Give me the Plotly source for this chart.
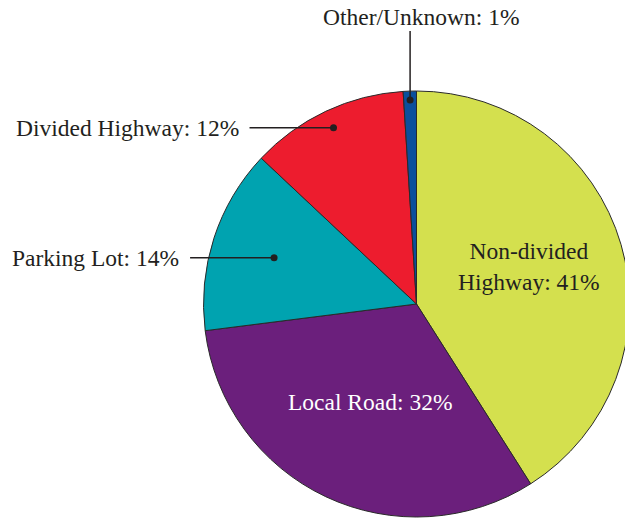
import math
import plotly.graph_objects as go

categories = ["Non-divided Highway", "Local Road", "Parking Lot", "Divided Highway", "Other/Unknown"]
values = [41, 32, 14, 12, 1]
label_text = ["Non-divided<br>Highway: 41%", "Local Road: 32%", "Parking Lot: 14%",
              "Divided Highway: 12%", "Other/Unknown: 1%"]
colors = ["#d4e04e", "#6b1f7c", "#00a3b0", "#ed1c2e", "#0b4f9c"]

W, H = 640, 519            # figure a bit wider than the window so the pie is clipped on the right
CX, CY = 416.5, 304        # pie centre in pixels (from top-left)
R = 213
FONT = "Liberation Serif"
FS = 23.5
INK = "#231f20"

# label placement style: (mode, radial fraction, text colour, vertical shift px)
styles = [
    ("inside", 0.55, INK, 5),
    ("inside", 0.51, "#ffffff", 0),
    ("left", 0.703, INK, 0),
    ("left", 0.915, INK, 0),
    ("top", 0.958, INK, 0),
]


def px(x, y):
    return x / W, 1 - y / H


fig = go.Figure(go.Pie(
    labels=categories, values=values, sort=False, direction="clockwise",
    rotation=0, marker=dict(colors=colors, line=dict(color="#2a2a2a", width=1)),
    textinfo="none", hoverinfo="label+percent", showlegend=False,
    domain=dict(x=[(CX - R) / W, (CX + R) / W],
                y=[(H - CY - R) / H, (H - CY + R) / H]),
))

annotations, shapes = [], []
total = sum(values)
cum = 0
for i, v in enumerate(values):
    mid = (cum + v / 2) / total * 2 * math.pi
    cum += v
    mode, frac, tcol, ysh = styles[i]
    x = CX + frac * R * math.sin(mid)
    y = CY - frac * R * math.cos(mid)
    font = dict(family=FONT, size=FS, color=tcol)
    if mode == "inside":
        ax, ay = px(x, y)
        annotations.append(dict(x=ax, y=ay, xref="paper", yref="paper", text=label_text[i],
                                showarrow=False, font=font, xanchor="center", yanchor="middle",
                                yshift=ysh))
        continue
    if mode == "left":
        lx = x - 84
        shapes.append(dict(type="line", xref="paper", yref="paper",
                           x0=px(lx, y)[0], y0=px(lx, y)[1], x1=px(x, y)[0], y1=px(x, y)[1],
                           line=dict(color=INK, width=1.5)))
        tx, ty = px(lx - 9, y)
        annotations.append(dict(x=tx, y=ty, xref="paper", yref="paper", text=label_text[i],
                                showarrow=False, font=font, xanchor="right", yanchor="middle"))
    else:
        ly = 31
        shapes.append(dict(type="line", xref="paper", yref="paper",
                           x0=px(x, ly)[0], y0=px(x, ly)[1], x1=px(x, y)[0], y1=px(x, y)[1],
                           line=dict(color=INK, width=1.5)))
        tx, ty = px(x + 11, 17)
        annotations.append(dict(x=tx, y=ty, xref="paper", yref="paper", text=label_text[i],
                                showarrow=False, font=font, xanchor="center", yanchor="middle"))
    d = 3.5
    shapes.append(dict(type="circle", xref="paper", yref="paper",
                       x0=(x - d) / W, x1=(x + d) / W, y0=1 - (y + d) / H, y1=1 - (y - d) / H,
                       fillcolor=INK, line=dict(width=0)))

fig.update_layout(width=W, height=H, margin=dict(l=0, r=0, t=0, b=0),
                  paper_bgcolor="white", plot_bgcolor="white",
                  annotations=annotations, shapes=shapes)
fig.write_html("out.html", config={"displayModeBar": False},
               post_script="document.body.style.margin='0';document.body.style.overflow='hidden';")
